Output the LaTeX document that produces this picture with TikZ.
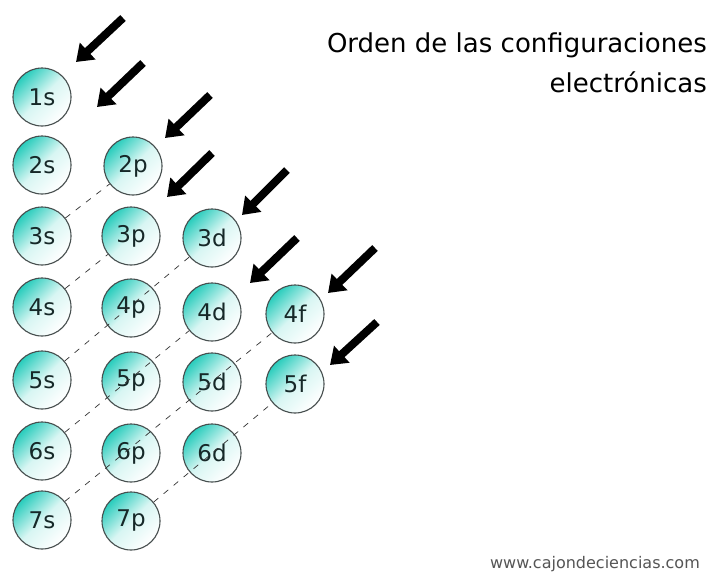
\documentclass[tikz,border=0pt]{standalone}
\usepackage{fontspec}
\setmainfont{DejaVu Sans}
\usetikzlibrary{arrows.meta}
\definecolor{tq}{RGB}{40,204,188}
\definecolor{ringc}{RGB}{70,78,78}
\definecolor{labc}{RGB}{22,40,40}
\definecolor{dashc}{RGB}{50,50,50}
\definecolor{footc}{RGB}{85,85,85}
\tikzset{
  orb/.style={circle, minimum size=58pt, inner sep=0pt, draw=ringc, line width=1.1pt,
    top color=tq, bottom color=white, middle color=tq!18, shading angle=45,
    text=labc, font=\fontsize{23}{23}\selectfont},
  link/.style={draw=dashc, line width=0.7pt, dash pattern=on 6pt off 7pt},
  bigarrow/.style={line width=8pt, -{Triangle[length=16pt,width=22pt]}, black}
}
\begin{document}
\begin{tikzpicture}[x=1pt,y=-1pt]
\useasboundingbox (0,0) rectangle (716,576);
\fill[white] (0,0) rectangle (716,576);
% orbitals
\node[orb] (n1s) at (42,97) {1s};
\node[orb] (n2s) at (42,165) {2s};
\node[orb] (n2p) at (133,166) {2p};
\node[orb] (n3s) at (42,236) {3s};
\node[orb] (n3p) at (131,236) {3p};
\node[orb] (n3d) at (212,238) {3d};
\node[orb] (n4s) at (42,307) {4s};
\node[orb] (n4p) at (131,308) {4p};
\node[orb] (n4d) at (212,312) {4d};
\node[orb] (n4f) at (295,314) {4f};
\node[orb] (n5s) at (42,380) {5s};
\node[orb] (n5p) at (131,381) {5p};
\node[orb] (n5d) at (212,382) {5d};
\node[orb] (n5f) at (295,384) {5f};
\node[orb] (n6s) at (42,451) {6s};
\node[orb] (n6p) at (131,453) {6p};
\node[orb] (n6d) at (212,453) {6d};
\node[orb] (n7s) at (42,520) {7s};
\node[orb] (n7p) at (131,521) {7p};
% diagonals
\draw[link] (n3s) -- (n2p);
\draw[link] (n4s) -- (n3p);
\draw[link] (n5s) -- (n3d);
\draw[link] (n6s) -- (n4d);
\draw[link] (n7s) -- (n4f);
\draw[link] (n7p) -- (n5f);
% arrows
\coordinate (t1) at (123,18);  \coordinate (h1) at (76,62);
\coordinate (t2) at (143,63);  \coordinate (h2) at (97,107);
\coordinate (t3) at (210,95);  \coordinate (h3) at (165,138);
\coordinate (t4) at (212,153); \coordinate (h4) at (167,197);
\coordinate (t5) at (287,170); \coordinate (h5) at (242,215);
\coordinate (t6) at (297,238); \coordinate (h6) at (250,283);
\coordinate (t7) at (375,248); \coordinate (h7) at (328,293);
\coordinate (t8) at (377,322); \coordinate (h8) at (330,365);
\foreach \i in {1,...,8} { \draw[bigarrow] (t\i) -- (h\i); }
% title
\node[anchor=base east, font=\fontsize{26}{26}\selectfont, inner sep=0pt] (title1) at (707,52) {Orden de las configuraciones};
\node[anchor=base east, font=\fontsize{26}{26}\selectfont, inner sep=0pt] (title2) at (707,92) {electrónicas};
% footer
\node[anchor=base east, font=\fontsize{16}{16}\selectfont, text=footc, inner sep=0pt] (foot) at (700,568) {www.cajondeciencias.com};
\end{tikzpicture}
\end{document}
